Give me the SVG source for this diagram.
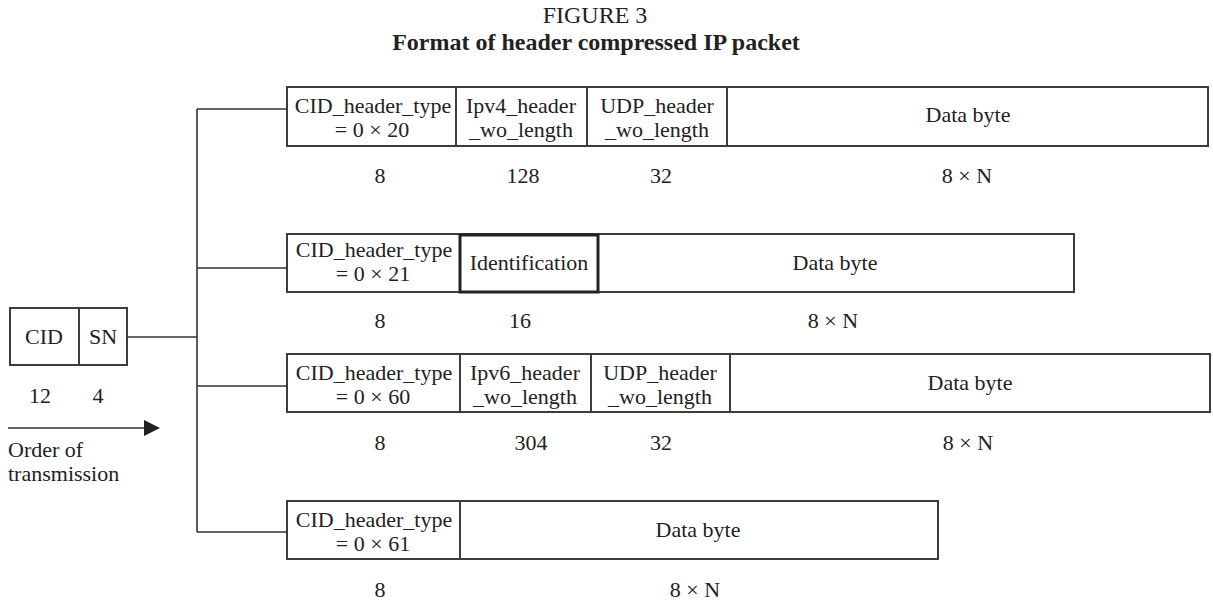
<svg xmlns="http://www.w3.org/2000/svg" width="1213" height="607" viewBox="0 0 1213 607">
<style>
  text { font-family: "Liberation Serif", "Times New Roman", serif; fill: #222; }
  .t { font-size: 22px; text-anchor: middle; }
  .l { font-size: 22px; text-anchor: start; }
  .h1 { font-size: 24px; text-anchor: middle; }
  .h2 { font-size: 24px; text-anchor: middle; font-weight: bold; }
  .box { fill: #fff; stroke: #3c3c3c; stroke-width: 2; }
  .div { stroke: #3c3c3c; stroke-width: 2; fill: none; }
  .thick { fill: none; stroke: #222; stroke-width: 3; }
  .wire { stroke: #333; stroke-width: 1.6; fill: none; }
</style>

<g id="title">
  <text class="h1" x="595" y="23">FIGURE 3</text>
  <text class="h2" x="596" y="50">Format of header compressed IP packet</text>
</g>

<g id="connectors">
  <path class="wire" d="M197 109 V532"/>
  <path class="wire" d="M197 109 H287"/>
  <path class="wire" d="M197 268 H287"/>
  <path class="wire" d="M127 337 H197"/>
  <path class="wire" d="M197 386 H287"/>
  <path class="wire" d="M197 532 H287"/>
</g>

<g id="cid-sn">
  <rect class="box" x="10" y="308" width="117" height="57"/>
  <path class="div" d="M79 308 V365"/>
  <text class="t" x="44" y="344">CID</text>
  <text class="t" x="103" y="344">SN</text>
  <text class="t" x="40" y="403">12</text>
  <text class="t" x="98" y="403">4</text>
</g>

<g id="order">
  <path class="wire" d="M8 428 H146"/>
  <polygon points="144,420 160,428 144,436" fill="#222"/>
  <text class="l" x="8" y="457">Order of</text>
  <text class="l" x="8" y="481">transmission</text>
</g>

<g id="row1">
  <rect class="box" x="287" y="87" width="921" height="59"/>
  <path class="div" d="M456 87 V146 M587 87 V146 M727 87 V146"/>
  <text class="t" x="373" y="113">CID_header_type</text>
  <text class="t" x="372" y="137">= 0 × 20</text>
  <text class="t" x="521" y="113">Ipv4_header</text>
  <text class="t" x="521" y="137">_wo_length</text>
  <text class="t" x="657" y="113">UDP_header</text>
  <text class="t" x="657" y="137">_wo_length</text>
  <text class="t" x="968" y="122">Data byte</text>
  <text class="t" x="380" y="183">8</text>
  <text class="t" x="523" y="183">128</text>
  <text class="t" x="661" y="183">32</text>
  <text class="t" x="967" y="183">8 × N</text>
</g>

<g id="row2">
  <rect class="box" x="287" y="234" width="787" height="58"/>
  <rect class="thick" x="460" y="235" width="138" height="57"/>
  <text class="t" x="374" y="257">CID_header_type</text>
  <text class="t" x="373" y="281">= 0 × 21</text>
  <text class="t" x="529" y="270">Identification</text>
  <text class="t" x="835" y="270">Data byte</text>
  <text class="t" x="380" y="328">8</text>
  <text class="t" x="520" y="328">16</text>
  <text class="t" x="833" y="328">8 × N</text>
</g>

<g id="row3">
  <rect class="box" x="287" y="354" width="923" height="58"/>
  <path class="div" d="M460 354 V412 M591 354 V412 M730 354 V412"/>
  <text class="t" x="374" y="380">CID_header_type</text>
  <text class="t" x="373" y="404">= 0 × 60</text>
  <text class="t" x="525" y="380">Ipv6_header</text>
  <text class="t" x="525" y="404">_wo_length</text>
  <text class="t" x="660" y="380">UDP_header</text>
  <text class="t" x="660" y="404">_wo_length</text>
  <text class="t" x="970" y="390">Data byte</text>
  <text class="t" x="380" y="450">8</text>
  <text class="t" x="531" y="450">304</text>
  <text class="t" x="661" y="450">32</text>
  <text class="t" x="968" y="450">8 × N</text>
</g>

<g id="row4">
  <rect class="box" x="287" y="501" width="651" height="58"/>
  <path class="div" d="M460 501 V559"/>
  <text class="t" x="374" y="527">CID_header_type</text>
  <text class="t" x="373" y="551">= 0 × 61</text>
  <text class="t" x="698" y="537">Data byte</text>
  <text class="t" x="380" y="597">8</text>
  <text class="t" x="695" y="597">8 × N</text>
</g>
</svg>
